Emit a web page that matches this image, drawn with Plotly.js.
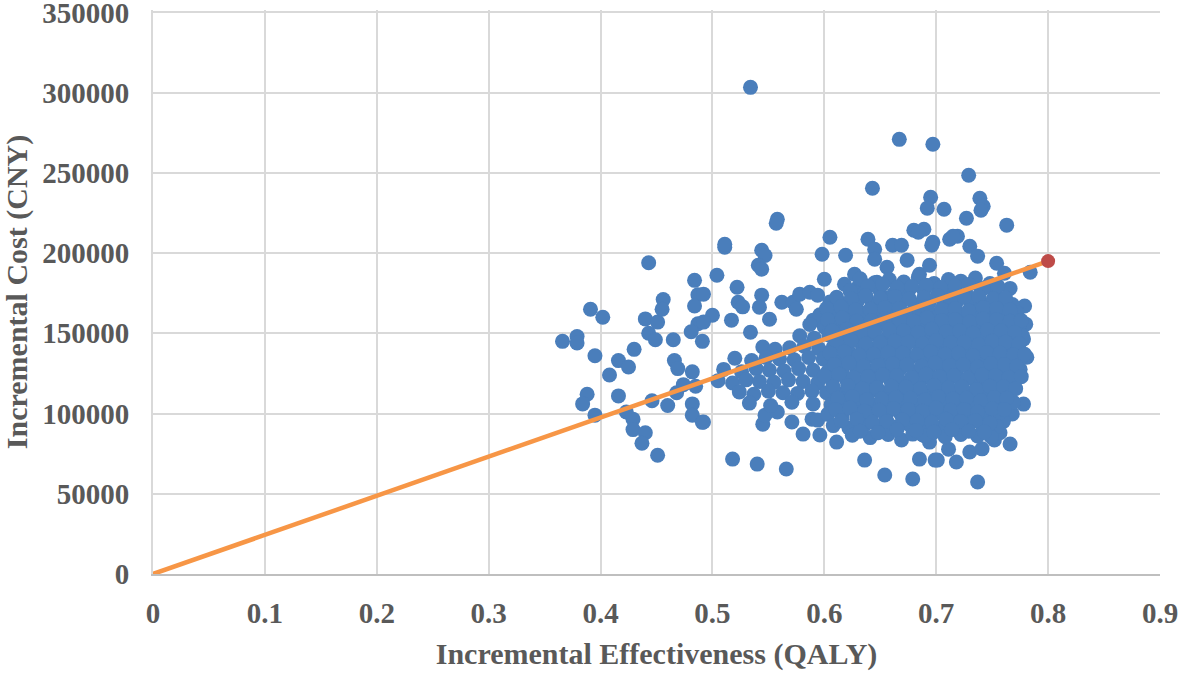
<!DOCTYPE html>
<html>
<head>
<meta charset="utf-8">
<script src="https://cdn.plot.ly/plotly-3.0.1.min.js"></script>
<style>html,body{margin:0;padding:0;background:#fff;}#chart{width:1180px;height:676px;}</style>
</head>
<body>
<div id="chart"></div>
<script>
// Individually read (sparse) simulation points
const effSparse = [0.366,0.379,0.379,0.391,0.402,0.395,0.408,0.416,0.425,0.430,0.440,0.443,0.449,0.451,0.456,0.455,0.443,0.465,0.484,0.487,0.484,0.487,0.481,0.491,0.466,0.469,0.482,
0.388,0.384,0.395,0.416,0.423,0.429,0.429,0.440,0.437,0.451,0.446,0.460,0.468,0.474,0.482,0.482,0.491,0.485,
0.492,0.518,0.540,0.566,0.545,0.547,0.558,0.571,0.581,0.589,0.596,0.594,
0.511,0.544,0.547,0.541,0.544,0.598,0.504,0.522,0.523,0.527,0.544,0.542,0.500,0.517,0.551,0.562,0.572,0.578,0.587,0.594,0.575,0.590,0.534,0.492,0.492,
0.534,0.667,0.697,0.729,0.643,0.558,0.557,0.695,0.692,0.707,0.739,0.742,0.740,0.727,0.763,0.605,0.639,0.511,0.680,0.689,0.712,0.719,0.697,
0.645,0.661,0.669,0.684,0.696,0.619,0.645,0.656,0.674,0.600,0.627,0.618,0.630,0.647,0.625,0.611,0.656,0.667,0.685,0.694,
0.611,0.636,0.654,0.679,0.669,0.685,0.699,0.679,0.688,0.694,
0.715,0.730,0.737,0.754,0.761,0.784,
0.766,0.779,0.780,0.778,0.781,0.775,0.772,
0.778,0.768,0.766,0.752,0.737,0.718,0.701,0.711,0.730,0.741,0.757,0.760];
const costSparse = [145000,148000,144000,165000,160000,136000,124000,133000,129000,140000,159000,150000,146000,157000,171000,165000,194000,146000,183000,174000,167000,156000,151000,145000,133000,128000,126000,
112000,106000,99000,111000,101000,96500,90000,88000,81500,74000,108000,105000,113000,118000,106000,99000,94500,117000,
94700,71600,68500,65400,93400,99000,101000,94700,87200,96500,86600,95900,
203700,201800,198500,192400,190000,199300,186200,178700,169400,166500,173800,166300,161300,158200,158800,169400,169400,174400,175600,173800,165000,158200,150700,174400,157000,
303300,270900,267800,248500,240400,221100,218600,234800,228000,227300,234200,229200,226700,221700,217400,209900,208600,205500,214200,214900,208600,210500,206700,
202400,204900,204900,213000,204900,198700,196200,191200,195600,183700,186800,180600,178700,181800,170600,163200,171800,178700,186800,192400,
82200,71000,61700,59200,83500,71600,71000,87200,86600,82200,
210500,204300,198100,193700,187400,188100,
178000,167000,155700,146400,135100,127600,124000,
105900,99700,81000,83500,57300,69800,71000,77800,76000,78000,88000,95000];

// Dense core of the cloud, read row by row
const effCore = [
0.632,0.645,0.658,0.671,0.684,0.698,0.711,0.722,0.735,0.748,
0.623,0.636,0.649,0.662,0.675,0.689,0.702,0.714,0.727,0.740,0.753,
0.605,0.617,0.630,0.643,0.656,0.669,0.682,0.694,0.707,0.719,0.731,0.744,0.757,0.768,
0.596,0.609,0.622,0.635,0.648,0.660,0.673,0.686,0.698,0.711,0.723,0.736,0.748,0.760,0.772,
0.587,0.600,0.613,0.626,0.638,0.651,0.664,0.677,0.690,0.702,0.715,0.727,0.740,0.752,0.764,0.774,
0.578,0.591,0.604,0.617,0.630,0.643,0.656,0.668,0.681,0.694,0.706,0.719,0.731,0.744,0.756,0.767,0.777,
0.545,0.556,0.569,0.582,0.595,0.608,0.621,0.634,0.647,0.660,0.672,0.685,0.698,0.710,0.723,0.735,0.748,0.760,0.771,
0.520,0.535,0.548,0.560,0.573,0.586,0.599,0.612,0.625,0.638,0.651,0.664,0.677,0.689,0.702,0.714,0.727,0.739,0.752,0.764,0.775,
0.510,0.526,0.539,0.551,0.564,0.577,0.590,0.603,0.616,0.629,0.642,0.655,0.668,0.681,0.693,0.706,0.718,0.731,0.743,0.756,0.768,
0.505,0.518,0.530,0.542,0.555,0.568,0.581,0.594,0.607,0.620,0.633,0.646,0.659,0.672,0.685,0.697,0.710,0.722,0.735,0.747,0.759,0.770,
0.524,0.537,0.550,0.563,0.576,0.589,0.602,0.615,0.628,0.641,0.654,0.667,0.680,0.692,0.705,0.717,0.730,0.742,0.754,0.765,
0.533,0.552,0.571,0.590,0.606,0.619,0.632,0.645,0.658,0.671,0.684,0.696,0.709,0.721,0.734,0.746,0.758,0.769,
0.603,0.616,0.629,0.642,0.655,0.668,0.681,0.694,0.706,0.719,0.731,0.744,0.756,
0.608,0.622,0.636,0.650,0.663,0.676,0.690,0.703,0.716,0.729,0.742,0.754,
0.625,0.641,0.657,0.690,0.708,0.722,0.737,0.749,
0.639,0.652,0.665,0.678,0.691,0.704,0.717,0.729,0.742,0.755,
0.611,0.624,0.637,0.650,0.663,0.676,0.689,0.701,0.713,0.725,0.738,0.751,0.762,
0.602,0.615,0.628,0.641,0.654,0.667,0.680,0.692,0.705,0.717,0.729,0.742,0.754,0.766,
0.603,0.616,0.629,0.642,0.654,0.667,0.680,0.692,0.705,0.717,0.730,0.742,0.754,0.766,0.776,
0.607,0.620,0.633,0.645,0.658,0.671,0.684,0.696,0.709,0.721,0.733,0.746,0.758,0.770,
0.611,0.624,0.637,0.650,0.663,0.675,0.688,0.700,0.713,0.725,0.738,0.750,0.762,0.774,
0.605,0.618,0.631,0.644,0.657,0.670,0.683,0.695,0.708,0.720,0.733,0.745,0.757,0.769,0.779,
0.609,0.622,0.635,0.648,0.661,0.674,0.687,0.699,0.712,0.724,0.737,0.749,0.761,0.772,
0.600,0.613,0.626,0.639,0.652,0.665,0.678,0.691,0.703,0.716,0.728,0.741,0.753,0.765,0.776,
0.608,0.621,0.634,0.647,0.660,0.673,0.686,0.698,0.711,0.723,0.736,0.748,0.760,0.771,
0.612,0.625,0.638,0.651,0.664,0.677,0.690,0.702,0.715,0.727,0.740,0.752,0.763,
0.610,0.623,0.636,0.649,0.662,0.675,0.688,0.700,0.713,0.725,0.737,0.750,0.761,
0.615,0.629,0.643,0.656,0.670,0.683,0.696,0.709,0.722,0.735,0.748,
0.632,0.648,0.665,0.682,0.698,0.714,0.729,0.743];
const costCore = [
184000,181500,183500,182000,185000,181000,183500,182500,184500,181000,
176500,175000,177500,174500,176000,177000,175500,176500,174000,177500,175000,
169500,168000,170500,168500,169000,170000,167500,169500,168000,170500,169000,167500,169500,168000,
161500,163000,161000,162500,163500,161000,162000,163000,161500,162500,161000,163500,162000,161500,163000,
155500,154000,156000,154500,155000,156500,154000,155500,155000,154500,156000,155000,154000,156500,155000,154500,
148500,147000,149000,147500,148000,149500,147000,148500,148000,147500,149000,148000,147000,149500,148000,147500,148500,
141500,140000,141000,142000,140500,141500,140000,142000,141000,140500,141500,140000,142000,141000,140500,141500,140000,142000,141000,
134500,133000,135000,134000,133500,135000,134000,133000,134500,135000,133500,134000,135000,133000,134500,134000,133500,135000,134000,133000,134500,
127500,126000,128000,127000,126500,128000,127000,126000,127500,128000,126500,127000,128000,126000,127500,127000,126500,128000,127000,126000,127500,
120500,119000,121000,120000,119500,121000,120000,119000,120500,121000,119500,120000,121000,119000,120500,120000,119500,121000,120000,119000,120500,120000,
113500,112000,114000,113000,112500,114000,113000,112000,113500,114000,112500,113000,114000,112000,113500,113000,112500,114000,113000,112000,
106500,105000,107000,106000,105500,107000,106000,105000,106500,107000,105500,106000,107000,105000,106500,106000,105500,107000,
99500,98000,100000,99000,98500,100000,99000,98000,99500,100000,98500,99000,100000,
92500,91000,93000,92000,91500,93000,92000,91000,92500,93000,91500,92000,
86500,85000,87000,86000,85500,87000,86000,85500,
179500,180500,178500,179000,180000,178500,179500,180500,178000,179500,
172500,171500,173500,172000,173000,171500,172500,173500,171000,172500,173000,171500,172000,
165500,166500,164500,165000,166000,165500,164500,166500,165000,165500,164000,166000,165500,164500,
158500,159500,157500,158000,159000,158500,157500,159500,158000,158500,157000,159000,158500,157500,158000,
151500,152500,150500,151000,152000,151500,150500,152500,151000,151500,150000,152000,151500,150500,
144500,145500,143500,144000,145000,144500,143500,145500,144000,144500,143000,145000,144500,143500,
137500,138500,136500,137000,138000,137500,136500,138500,137000,137500,136000,138000,137500,136500,137000,
130500,131500,129500,130000,131000,130500,129500,131500,130000,130500,129000,131000,130500,129500,
123500,124500,122500,123000,124000,123500,122500,124500,123000,123500,122000,124000,123500,122500,123000,
116500,117500,115500,116000,117000,116500,115500,117500,116000,116500,115000,117000,116500,115500,
109500,110500,108500,109000,110000,109500,108500,110500,109000,109500,108000,110000,109500,
102500,103500,101500,102000,103000,102500,101500,103500,102000,102500,101000,103000,102500,
95500,96500,94500,95000,96000,95500,94500,96500,95000,95500,94000,
89000,88000,90000,89500,88500,90000,89000,88500];

// Threshold line and point estimate
const lineEff = [0, 0.8];
const lineCost = [0, 195000];
const pointEff = [0.8];
const pointCost = [195000];

const xTicks = [0, 0.1, 0.2, 0.3, 0.4, 0.5, 0.6, 0.7, 0.8, 0.9];
const yTicks = [0, 50000, 100000, 150000, 200000, 250000, 300000, 350000];

const textColor = '#595959';
const fontFam = '"Liberation Serif", "Times New Roman", serif';

const traces = [
  {
    x: effSparse.concat(effCore),
    y: costSparse.concat(costCore),
    type: 'scatter', mode: 'markers',
    marker: {color: '#4A7EBB', size: 15, line: {width: 0}},
    hoverinfo: 'x+y', showlegend: false
  },
  {
    x: lineEff, y: lineCost, type: 'scatter', mode: 'lines',
    line: {color: '#F79646', width: 4.5}, showlegend: false
  },
  {
    x: pointEff, y: pointCost, type: 'scatter', mode: 'markers',
    marker: {color: '#BE4B48', size: 14}, showlegend: false
  }
];

const layout = {
  width: 1180, height: 676,
  margin: {l: 153, r: 20, t: 10, b: 102},
  paper_bgcolor: '#ffffff', plot_bgcolor: '#ffffff',
  font: {family: fontFam, color: textColor, size: 29, weight: 'bold'},
  showlegend: false,
  xaxis: {
    range: [0, 0.9], tickvals: xTicks, ticktext: xTicks.map(String),
    showgrid: true, gridcolor: '#d9d9d9', gridwidth: 2,
    zeroline: false, showline: true, linecolor: '#bfbfbf', linewidth: 2,
    ticks: '', ticklabelstandoff: 12,
    tickfont: {family: fontFam, size: 29, color: textColor, weight: 'bold'},
    title: {text: 'Incremental Effectiveness (QALY)', standoff: 15,
            font: {family: fontFam, size: 30, color: textColor, weight: 'bold'}}
  },
  yaxis: {
    range: [0, 351500], tickvals: yTicks, ticktext: yTicks.map(String),
    showgrid: true, gridcolor: '#d9d9d9', gridwidth: 2,
    zeroline: false, showline: true, linecolor: '#d9d9d9', linewidth: 2,
    ticks: '', ticklabelstandoff: 16, ticklabeloverflow: 'allow',
    tickfont: {family: fontFam, size: 29, color: textColor, weight: 'bold'},
    title: {text: 'Incremental Cost (CNY)', standoff: 8,
            font: {family: fontFam, size: 30, color: textColor, weight: 'bold'}}
  }
};

Plotly.newPlot('chart', traces, layout, {displayModeBar: false, staticPlot: true});
</script>
</body>
</html>
